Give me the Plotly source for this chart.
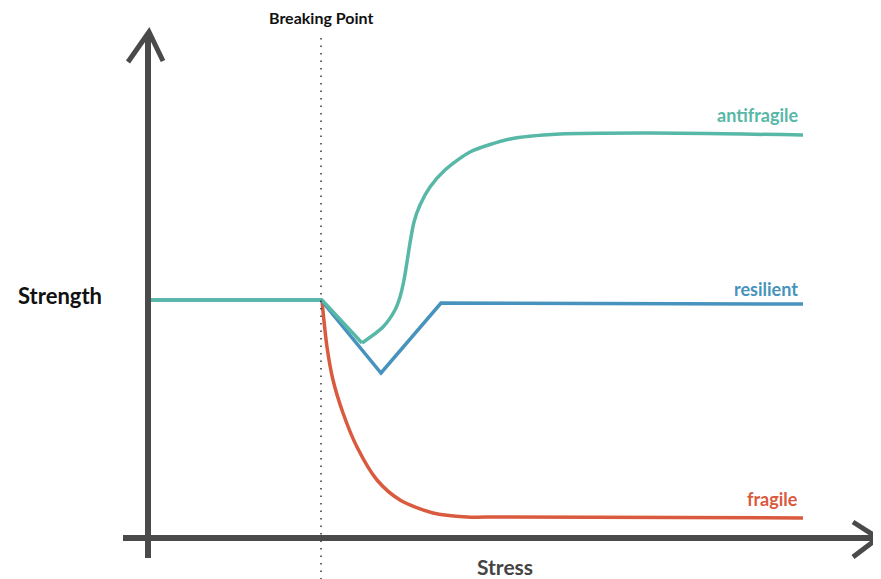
import plotly.graph_objects as go

# ---- data (stress on x, strength on y; origin at the axes corner) ----
breaking_point = 173

resilient_x = [0, 173, 233, 293, 655]
resilient_y = [238, 238, 165, 235, 234]

antifragile_drop_x = [0, 174, 214]
antifragile_drop_y = [238, 238, 195]
antifragile_rise_x = [214, 235, 247, 252, 256, 259, 262, 266, 272, 282, 297, 322, 362, 412, 502, 655]
antifragile_rise_y = [195, 211, 228, 241, 258, 276, 295, 316, 333, 351, 368, 386, 399, 404, 405, 403]

fragile_x = [174, 179, 185, 195, 209, 229, 252, 285, 319, 352, 655]
fragile_y = [237, 191, 158, 125, 91, 58, 38, 25, 21, 21, 20]

labels = {"antifragile": (652, 423), "resilient": (652, 249), "fragile": (652, 39)}

C_TEAL = "#58b8a7"
C_BLUE = "#4793bd"
C_RED = "#d95a3f"
C_AXIS = "#4a4a4a"
FONT = "Lato"

fig = go.Figure()
fig.add_trace(go.Scatter(x=fragile_x, y=fragile_y, mode="lines",
                         line=dict(color=C_RED, width=3.5, shape="spline", smoothing=0.8),
                         hoverinfo="skip"))
fig.add_trace(go.Scatter(x=resilient_x, y=resilient_y, mode="lines",
                         line=dict(color=C_BLUE, width=3.5), hoverinfo="skip"))
fig.add_trace(go.Scatter(x=antifragile_drop_x, y=antifragile_drop_y, mode="lines",
                         line=dict(color=C_TEAL, width=3.5), hoverinfo="skip"))
fig.add_trace(go.Scatter(x=antifragile_rise_x, y=antifragile_rise_y, mode="lines",
                         line=dict(color=C_TEAL, width=3.5, shape="spline", smoothing=0.7),
                         hoverinfo="skip"))

shapes = [
    # breaking point dotted line
    dict(type="line", x0=breaking_point, x1=breaking_point, y0=500, y1=-41,
         line=dict(color="#333333", width=1.5, dash="1.5px,6px")),
    # y axis
    dict(type="line", x0=0, x1=0, y0=-20, y1=503, line=dict(color=C_AXIS, width=6)),
    dict(type="path", path="M -20 476 L 1 506 L 15 477", line=dict(color=C_AXIS, width=5)),
    # x axis
    dict(type="line", x0=-25, x1=728, y0=0, y1=0, line=dict(color=C_AXIS, width=6)),
    dict(type="path", path="M 705 16 L 730 0 L 705 -19", line=dict(color=C_AXIS, width=5)),
]

annotations = [
    dict(x=breaking_point, y=521, text="Breaking Point", showarrow=False,
         font=dict(family=FONT, size=16, color="#111111", weight=700)),
    dict(x=-88, y=243, text="Strength", showarrow=False,
         font=dict(family=FONT, size=22, color="#111111", weight=700)),
    dict(x=357, y=-28, text="Stress", showarrow=False,
         font=dict(family=FONT, size=21, color="#444444", weight=700)),
]
for name, color in (("antifragile", C_TEAL), ("resilient", C_BLUE), ("fragile", C_RED)):
    lx, ly = labels[name]
    annotations.append(dict(x=lx, y=ly, text=name, showarrow=False, xanchor="right",
                            font=dict(family=FONT, size=18, color=color, weight=700)))

# page body has an 8px margin: figure spans screen pixels 8..881 / 8..579
fig.update_layout(
    width=873, height=571, autosize=False,
    margin=dict(l=0, r=0, t=0, b=0),
    paper_bgcolor="white", plot_bgcolor="white",
    showlegend=False,
    xaxis=dict(range=[-140, 733], visible=False, fixedrange=True),
    yaxis=dict(range=[-41, 530], visible=False, fixedrange=True),
    shapes=shapes, annotations=annotations,
)

fig.write_html("out.html")
